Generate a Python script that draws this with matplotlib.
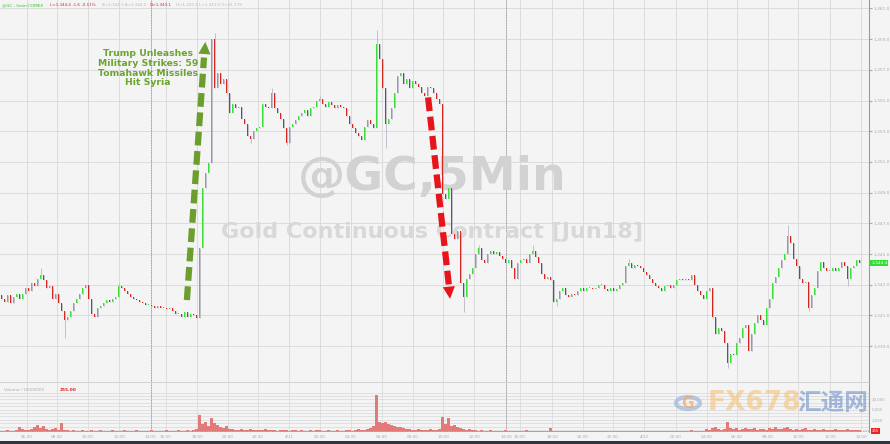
import numpy as np
import matplotlib.pyplot as plt
from matplotlib.patches import Rectangle

# 5-min closes, one per candle (left to right)
closes = [
    1342.1, 1341.9, 1342.3, 1341.8, 1342.2, 1342.4, 1342.1,
    1342.4, 1342.8, 1342.6, 1343.1, 1342.9, 1343.4, 1343.6,
    1343.3, 1342.8, 1342.9, 1342.1, 1342.4, 1341.8, 1341.3,
    1340.7,
    1340.9, 1341.3, 1341.8, 1342.1, 1342.4, 1342.8, 1343.0,
    1342.1, 1341.1, 1340.9,
    1341.5, 1341.6, 1341.8, 1342.0, 1341.9, 1342.1, 1342.2,
    1342.9, 1342.8,
    1342.6, 1342.4, 1342.2, 1342.1, 1342.0, 1341.9, 1341.8,
    1341.7, 1341.7, 1341.6, 1341.5, 1341.6, 1341.5, 1341.5, 1341.4, 1341.5,
    1341.3, 1341.1, 1341.1, 1340.9, 1341.2,
    1340.9, 1341.1, 1341.0, 1340.8,
    1345.4, 1349.3, 1350.3, 1350.9, 1359.0, 1355.8,
    1356.8, 1356.1, 1356.4, 1355.5, 1354.2,
    1354.8, 1354.5, 1354.6, 1353.8, 1353.5, 1352.7, 1352.5,
    1353.0, 1353.2, 1353.3, 1354.8, 1354.6, 1354.5, 1355.5,
    1354.5, 1354.2, 1353.8, 1353.2, 1352.2,
    1353.3, 1353.5, 1353.7, 1354.0, 1354.2, 1354.4, 1354.0,
    1354.5, 1354.6, 1355.0, 1355.1,
    1354.8, 1354.6, 1354.9, 1354.7, 1354.5, 1354.7, 1354.6, 1354.5,
    1354.0, 1353.5, 1353.2, 1352.9, 1352.7, 1352.4,
    1353.3, 1353.7, 1353.5, 1353.2,
    1358.7, 1357.7, 1355.8, 1353.5, 1353.8, 1354.5, 1355.5, 1356.6,
    1356.8, 1356.1, 1356.4, 1355.8, 1356.3, 1356.1, 1355.9,
    1355.5, 1355.3, 1355.9, 1355.8, 1355.5, 1355.1, 1354.8,
    1348.9, 1348.6, 1349.3, 1346.3, 1346.0, 1346.5, 1343.1, 1342.2,
    1343.4, 1343.7, 1344.1, 1345.0, 1345.4, 1344.6, 1344.4,
    1345.0, 1345.2, 1345.0, 1345.1, 1344.9, 1344.7, 1344.4, 1344.6,
    1344.1, 1343.4, 1344.4, 1344.6, 1344.7, 1344.4, 1345.0, 1345.2,
    1344.8, 1344.4, 1343.7, 1343.4, 1343.5, 1343.3, 1341.9, 1342.1,
    1342.6, 1342.8, 1342.3, 1342.2, 1342.4, 1342.3,
    1342.6, 1342.8, 1342.6, 1342.8, 1342.8, 1342.7, 1342.8,
    1343.0, 1343.0, 1342.7, 1342.6, 1342.8, 1342.6, 1342.7,
    1343.0, 1343.1, 1344.2, 1344.4, 1344.1, 1344.3, 1344.2, 1344.1,
    1343.8, 1343.6, 1343.4, 1343.1, 1342.9, 1342.8, 1342.6,
    1342.9, 1343.0, 1342.8, 1343.0, 1343.3, 1343.4, 1343.3, 1343.4, 1343.3,
    1343.6, 1343.0, 1342.6, 1342.3, 1342.1, 1342.6, 1342.8,
    1340.9, 1339.8, 1340.2, 1340.0, 1339.2, 1337.9, 1338.5, 1338.4,
    1339.2, 1339.5, 1340.2, 1340.4, 1338.7, 1339.8, 1340.5, 1341.0,
    1340.7, 1340.4, 1341.5, 1342.1, 1343.1, 1343.5, 1344.1, 1344.6,
    1345.0, 1346.2, 1345.7, 1344.7, 1344.2, 1343.4, 1343.1, 1343.2,
    1341.5, 1342.3, 1342.8, 1343.9, 1344.5, 1344.1, 1343.9,
    1343.9, 1344.1, 1343.9, 1344.1, 1344.5, 1344.2, 1343.4,
    1344.1, 1344.2, 1344.6, 1344.4,
]
first_open = 1342.3

# notable wicks: candle index -> (high, low)
wicks = {
    13: (1344.1, None), 21: (None, 1339.5), 39: (1343.1, None),
    71: (1359.4, None), 83: (None, 1352.2), 90: (1355.8, None),
    95: (None, 1352.1), 106: (1355.3, None), 125: (1359.6, None),
    128: (None, 1351.9), 154: (None, 1341.2), 159: (1345.6, None),
    177: (1345.6, None), 185: (None, 1341.6), 209: (1344.7, None),
    242: (None, 1337.6), 262: (1346.9, None), 269: (None, 1341.3),
    282: (None, 1342.9),
}

volume = [
    1, 1, 2, 1, 1, 2, 5, 3, 2, 2,
    3, 5, 7, 4, 6, 3, 2, 3, 4, 2,
    9, 2, 2, 1, 2, 1, 1, 2, 1, 1,
    2, 1, 1, 2, 1, 1, 1, 2, 1, 1,
    1, 2, 1, 1, 1, 2, 1, 1, 1, 1,
    2, 1, 1, 1, 1, 2, 1, 1, 1, 2,
    1, 1, 2, 1, 2, 3, 17, 8, 10, 6,
    14, 9, 7, 5, 4, 6, 3, 3, 2, 2,
    3, 2, 2, 3, 2, 2, 2, 2, 3, 2,
    2, 2, 1, 2, 2, 2, 1, 2, 2, 1,
    2, 1, 1, 2, 1, 2, 2, 1, 1, 2,
    1, 1, 2, 1, 1, 2, 2, 1, 2, 3,
    2, 2, 3, 4, 6, 37, 10, 9, 10, 8,
    7, 6, 5, 5, 4, 3, 3, 2, 2, 3,
    2, 2, 2, 3, 2, 2, 3, 15, 8, 14,
    6, 7, 5, 4, 3, 2, 3, 2, 2, 1,
    2, 1, 1, 2, 1, 1, 1, 1, 2, 1,
    1, 1, 1, 1, 1, 2, 1, 1, 1, 1,
    1, 1, 1, 4, 1, 1, 1, 1, 1, 1,
    1, 1, 1, 1, 1, 1, 1, 1, 1, 1,
    1, 1, 1, 1, 1, 1, 1, 1, 1, 1,
    1, 1, 1, 1, 1, 1, 1, 1, 1, 1,
    1, 1, 1, 1, 1, 1, 1, 1, 1, 1,
    2, 1, 1, 1, 1, 3, 2, 4, 5, 3,
    2, 3, 10, 4, 3, 4, 2, 3, 4, 3,
    3, 4, 2, 3, 3, 2, 4, 3, 5, 3,
    3, 4, 5, 3, 2, 3, 2, 3, 4, 2,
    2, 3, 2, 2, 3, 2, 2, 2, 3, 2,
    2, 2, 3, 2, 2, 2, 2,
]

# time axis (candle index of each gridline, label)
time_pos = [8.5, 18.5, 28.8, 39.2, 49.8, 54.8, 65.2, 75.5, 85.5, 95.8, 106.2,
            116.5, 126.8, 137.2, 147.2, 157.5, 168.2, 172.8, 183.5, 193.8,
            203.8, 214.2, 224.8, 235.2, 245.2, 255.5, 265.5, 276.2, 286.5]
time_lbl = ["06:00", "08:00", "10:00", "12:00", "14:00", "16:00", "18:00",
            "20:00", "22:00", "4/11", "02:00", "04:00", "06:00", "08:00",
            "10:00", "12:00", "14:00", "16:00", "18:00", "20:00", "22:00",
            "4/12", "02:00", "04:00", "06:00", "08:00", "10:00", "12:00", "14:00"]
session_breaks = [49.8, 168.2]
price_ticks = [1339, 1341, 1343, 1345, 1347, 1349, 1351, 1353, 1355, 1357, 1359, 1361]

opens = [first_open] + closes[:-1]
highs = [max(o, c) for o, c in zip(opens, closes)]
lows = [min(o, c) for o, c in zip(opens, closes)]
for k, (h, l) in wicks.items():
    if h is not None:
        highs[k] = h
    if l is not None:
        lows[k] = l
idx = np.arange(len(closes))
up = np.array(closes) >= np.array(opens)

bg = '#f4f4f4'
grid_c = '#d8d8d8'
green = '#3cdc3c'
red = '#d4261e'

W, H = 890, 444
fig = plt.figure(figsize=(8.9, 4.44), dpi=100, facecolor=bg)

ax = fig.add_axes([0, (H - 382) / H, 869 / W, 382 / H], facecolor=bg)
vax = fig.add_axes([0, (H - 432) / H, 869 / W, 49 / H], facecolor=bg, sharex=ax)

# candles
ax.vlines(idx, lows, highs, color='#b8b8c4', lw=0.6, zorder=2)
body = np.array(closes) - np.array(opens)
body = np.where(np.abs(body) < 0.06, 0.06, body)
ax.bar(idx, body, bottom=opens, width=0.6,
       color=np.where(up, green, red), edgecolor='none', zorder=3)

ax.set_xlim(-0.5, 869 / 3 - 0.5)
ax.set_ylim(1345 - 128 / 15.35, 1345 + 254 / 15.35)
ax.set_yticks(price_ticks)
ax.set_yticklabels(['{:,.1f}'.format(p) for p in price_ticks])
ax.yaxis.tick_right()
ax.tick_params(axis='y', labelsize=3.1, colors='#aaaaaa', length=2, pad=1)
ax.tick_params(axis='x', length=0, labelbottom=False)
ax.set_xticks(time_pos)
ax.grid(True, color=grid_c, lw=0.6)
ax.set_axisbelow(True)
for s in ['top', 'left']:
    ax.spines[s].set_visible(False)
ax.spines['right'].set_color('#999999')
ax.spines['bottom'].set_color('#cccccc')
ax.spines['bottom'].set_linewidth(0.6)
for b in session_breaks:
    ax.axvline(b, color='#888888', lw=0.6, ls=(0, (1, 1)), zorder=1)
    vax.axvline(b, color='#888888', lw=0.6, ls=(0, (1, 1)), zorder=1)

# watermarks
ax.text(0.497, 0.535, '@GC,5Min', transform=ax.transAxes, fontsize=34,
        fontweight='bold', color='#d2d2d2', ha='center', va='center', zorder=1)
ax.text(0.497, 0.393, 'Gold Continuous Contract [Jun18]', transform=ax.transAxes,
        fontsize=16, fontweight='bold', color='#d8d8d8', ha='center', va='center', zorder=1)

# annotation and arrows
ax.text(48.8, 1357.1, 'Trump Unleashes\nMilitary Strikes: 59\nTomahawk Missiles\nHit Syria',
        fontsize=6.7, fontweight='bold', color='#6aa530', ha='center', va='center',
        linespacing=1.1, zorder=5)
gx = [61.8, 67.5]
gy = [1342.0, 1357.8]
ax.plot(gx, gy, color='#6b9e2e', lw=4.5, ls=(0, (2.2, 0.9)), solid_capstyle='butt', zorder=5)
ax.annotate('', xy=(68.0, 1359.0), xytext=(67.5, 1357.6),
            arrowprops=dict(arrowstyle='-|>', color='#6b9e2e', lw=0, mutation_scale=22), zorder=5)
rx = [142.2, 149.1]
ry = [1355.2, 1343.0]
ax.plot(rx, ry, color='#e8141c', lw=4.5, ls=(0, (2.2, 0.9)), solid_capstyle='butt', zorder=5)
ax.annotate('', xy=(149.6, 1341.9), xytext=(149.0, 1343.1),
            arrowprops=dict(arrowstyle='-|>', color='#e8141c', lw=0, mutation_scale=22), zorder=5)

# volume panel
vax.bar(idx, volume, width=0.8, color='#e27a7a', edgecolor='none', zorder=3)
vax.axhline(0.8, color='#ee9a9a', lw=0.6, ls=(0, (2, 1)), zorder=4)
vax.set_ylim(0, 49)
vax.set_yticks(np.arange(2, 40, 3.4))
vax.yaxis.tick_right()
vax.tick_params(axis='y', length=0, labelright=False)
vax.grid(True, color=grid_c, lw=0.5)
vax.set_axisbelow(True)
vax.set_xticks(time_pos)
vax.set_xticklabels(time_lbl)
vax.tick_params(axis='x', labelsize=3.0, colors='#aaaaaa', length=0, pad=2)
for s in ['top', 'left', 'bottom']:
    vax.spines[s].set_visible(False)
vax.spines['right'].set_color('#999999')
vax.text(1, 42, 'Volume / 10000000', fontsize=3.0, color='#aaaaaa', va='center')
vax.text(19.5, 42, '255.00', fontsize=3.2, color='#dd2222', va='center', fontweight='bold')

# header line
hy = 1 - 5 / H
fig.text(2 / W, hy, '@GC - 5min COMEX', fontsize=3.0, color='#33bb33', va='center')
fig.text(50 / W, hy, 'L=1,344.4 -1.6 -0.11%', fontsize=3.0, color='#dd2222', va='center')
fig.text(102 / W, hy, 'B=1,344.3 A=1,344.5', fontsize=3.0, color='#bbbbbb', va='center')
fig.text(150 / W, hy, 'O=1,343.1', fontsize=3.0, color='#dd2222', va='center')
fig.text(176 / W, hy, 'H=1,345.1 L=1,343.0 V=41,779', fontsize=3.0, color='#bbbbbb', va='center')

# right side labels
fig.text(871 / W, 1 - 263 / H, '1,344.4', fontsize=3.1, color='white', va='center',
         bbox=dict(fc='#33dd33', ec='none', pad=0.6))
for yy, t in [(400, '10,000'), (410, '5,000'), (421, '2,000')]:
    fig.text(872 / W, 1 - yy / H, t, fontsize=2.8, color='#aaaaaa', va='center')
fig.text(872 / W, 1 - 431 / H, '255', fontsize=2.8, color='white', va='center',
         bbox=dict(fc='#ee2222', ec='none', pad=0.6))

# FX678 watermark
circ = plt.Circle((688 / W, 1 - 403 / H), 12 / W, transform=fig.transFigure,
                  fill=False, ec='#9fb6dc', lw=3.0, alpha=0.7)
fig.add_artist(circ)
fig.text(688 / W, 1 - 403 / H, 'G', fontsize=11, color='#f2a868', alpha=0.7,
         ha='center', va='center', fontweight='bold')
fig.text(708 / W, 1 - 403 / H, 'FX678', fontsize=19, color='#f4c27a', alpha=0.6,
         va='center', fontweight='bold')
fig.text(797 / W, 1 - 403 / H, '汇通网', fontsize=17, color='#6f90c8', alpha=0.6,
         va='center', family=['Noto Sans CJK SC', 'DejaVu Sans'], fontweight='bold')

# dark strip at the bottom
fig.add_artist(Rectangle((0, 0), 1, 3.5 / H, transform=fig.transFigure,
                         fc='#2f343d', ec='none'))

fig.savefig('out.png', dpi=100, facecolor=bg)
